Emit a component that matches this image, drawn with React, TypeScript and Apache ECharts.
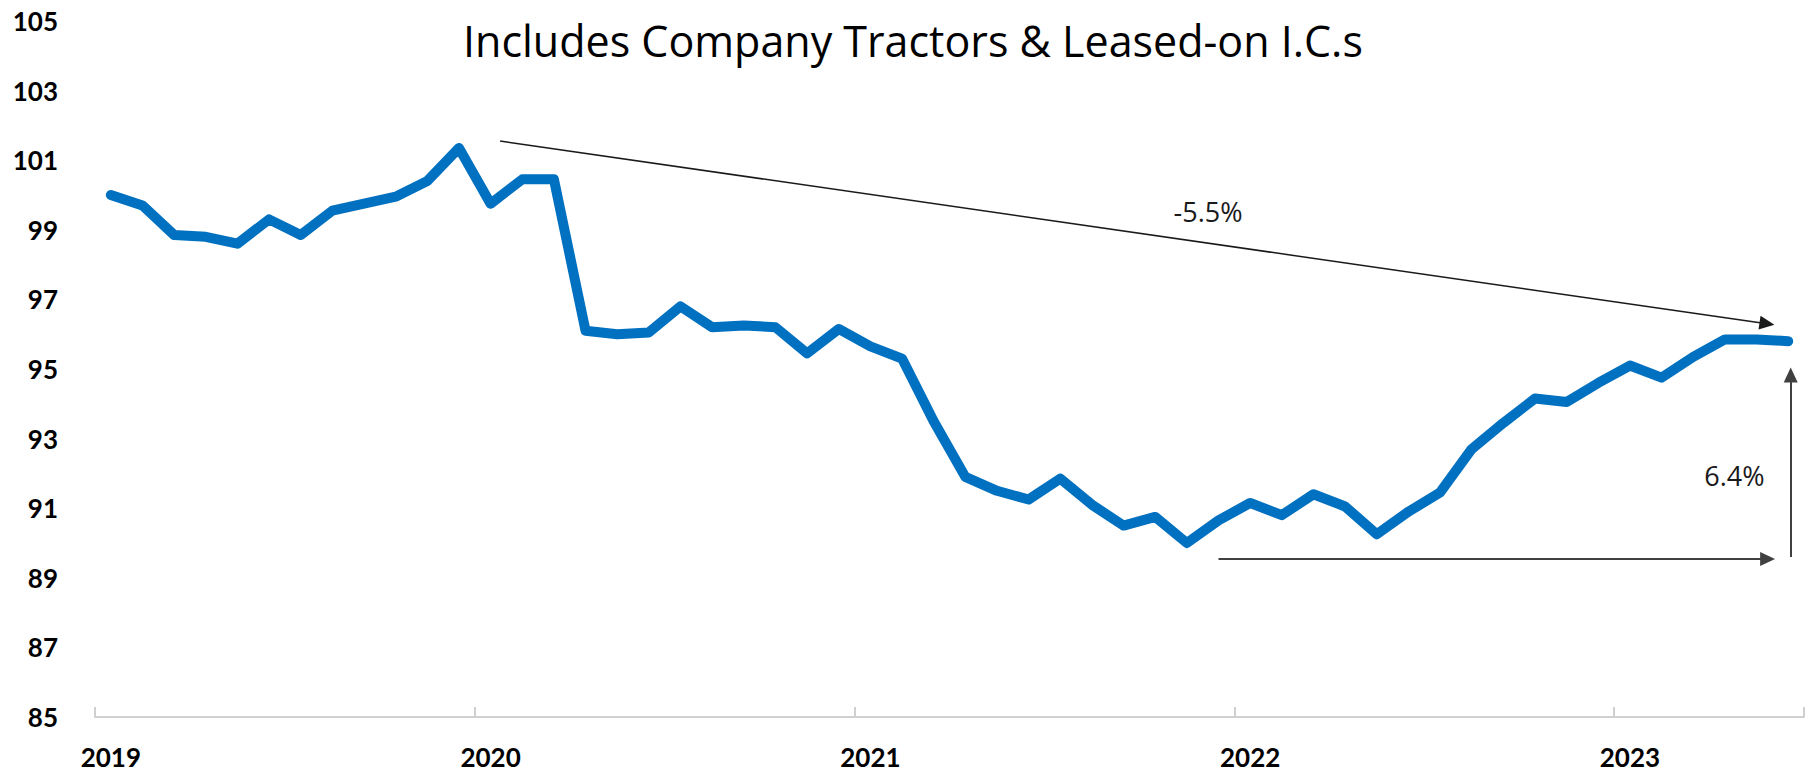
import React, { useEffect, useRef } from "react";
import * as echarts from "echarts";

const months = [
  "2019-01","2019-02","2019-03","2019-04","2019-05","2019-06","2019-07","2019-08","2019-09","2019-10","2019-11","2019-12",
  "2020-01","2020-02","2020-03","2020-04","2020-05","2020-06","2020-07","2020-08","2020-09","2020-10","2020-11","2020-12",
  "2021-01","2021-02","2021-03","2021-04","2021-05","2021-06","2021-07","2021-08","2021-09","2021-10","2021-11","2021-12",
  "2022-01","2022-02","2022-03","2022-04","2022-05","2022-06","2022-07","2022-08","2022-09","2022-10","2022-11","2022-12",
  "2023-01","2023-02","2023-03","2023-04","2023-05","2023-06",
];

const tractorIndex = [
  100.0, 99.7, 98.85, 98.8, 98.6, 99.3, 98.85, 99.55, 99.75, 99.95, 100.4, 101.35,
  99.75, 100.45, 100.45, 96.1, 96.0, 96.05, 96.8, 96.2, 96.25, 96.2, 95.45, 96.15,
  95.65, 95.3, 93.5, 91.9, 91.5, 91.25, 91.85, 91.1, 90.5, 90.75, 90.0, 90.65,
  91.15, 90.8, 91.4, 91.05, 90.25, 90.9, 91.45, 92.7, 93.45, 94.15, 94.05, 94.6,
  95.1, 94.75, 95.35, 95.85, 95.85, 95.8,
];

const yTicks = { min: 85, max: 105, interval: 2 };
const titleText = "Includes Company Tractors & Leased-on I.C.s";

// annotation positions in (month position, index value)
const declineArrow = [[12.3, 101.55], [52.33, 96.3]];
const baseArrow = [[35.0, 89.54], [52.35, 89.54]];
const riseArrow = [[53.08, 89.6], [53.08, 94.83]];
const annotationLabels = [
  { name: "-5.5%", coord: [34.67, 99.54] },
  { name: "6.4%", coord: [51.3, 91.93] },
];

export default function App() {
  const ref = useRef<HTMLDivElement>(null);
  useEffect(() => {
    if (!ref.current) return;
    const chart = echarts.init(ref.current, null, { renderer: "svg" });
    const font = "Lato, 'Open Sans', sans-serif";
    const textFont = "'Open Sans', Lato, sans-serif";
    chart.setOption({
      animation: false,
      backgroundColor: "#ffffff",
      title: {
        text: titleText,
        left: 463,
        top: 19,
        padding: 0,
        textStyle: { fontFamily: textFont, fontSize: 43, fontWeight: "normal", color: "#000" },
      },
      grid: { left: 95, right: 2, top: 21, bottom: 61, containLabel: false },
      xAxis: [
        {
          type: "category",
          data: months,
          boundaryGap: true,
          axisLine: { show: true, lineStyle: { color: "#d0d0d0", width: 2 } },
          axisTick: {
            show: true,
            inside: true,
            length: 10,
            interval: (i: number) => i % 12 === 0,
            lineStyle: { color: "#d0d0d0", width: 2 },
          },
          axisLabel: {
            interval: (i: number) => i % 12 === 0,
            formatter: (v: string) => v.slice(0, 4),
            margin: 27,
            fontFamily: font,
            fontSize: 26,
            fontWeight: "bold",
            color: "#000",
          },
          splitLine: { show: false },
        },
        {
          type: "value",
          min: -0.5,
          max: 53.5,
          show: false,
        },
      ],
      yAxis: {
        type: "value",
        min: yTicks.min,
        max: yTicks.max,
        interval: yTicks.interval,
        axisLine: { show: false },
        axisTick: { show: false },
        splitLine: { show: false },
        axisLabel: {
          margin: 37,
          fontFamily: font,
          fontSize: 26,
          fontWeight: "bold",
          color: "#000",
        },
      },
      series: [
        {
          type: "line",
          data: tractorIndex,
          xAxisIndex: 0,
          showSymbol: false,
          symbol: "none",
          lineStyle: { color: "#0070C0", width: 10, cap: "round", join: "round" },
          itemStyle: { color: "#0070C0" },
        },
        {
          type: "line",
          xAxisIndex: 1,
          data: [],
          showSymbol: false,
          markLine: {
            silent: true,
            symbol: ["none", "triangle"],
            symbolSize: [14, 15],
            label: { show: false },
            data: [
              [
                { coord: declineArrow[0], lineStyle: { color: "#1a1a1a", width: 1.5, type: "solid" } },
                { coord: declineArrow[1], lineStyle: { color: "#1a1a1a", width: 1.5, type: "solid" } },
              ],
              [
                { coord: baseArrow[0], lineStyle: { color: "#404040", width: 2, type: "solid" } },
                { coord: baseArrow[1], lineStyle: { color: "#404040", width: 2, type: "solid" } },
              ],
              [
                { coord: riseArrow[0], lineStyle: { color: "#404040", width: 2, type: "solid" } },
                { coord: riseArrow[1], lineStyle: { color: "#404040", width: 2, type: "solid" } },
              ],
            ],
          },
          markPoint: {
            silent: true,
            symbol: "circle",
            symbolSize: 0,
            label: {
              show: true,
              position: "inside",
              formatter: "{b}",
              fontFamily: textFont,
              fontSize: 27,
              color: "#1a1a1a",
            },
            data: annotationLabels.map((a) => ({ name: a.name, coord: a.coord })),
          },
        },
      ],
    });
    return () => chart.dispose();
  }, []);
  return (
    <div
      ref={ref}
      style={{ position: "fixed", left: 0, top: 0, width: 1806, height: 778 }}
    />
  );
}
